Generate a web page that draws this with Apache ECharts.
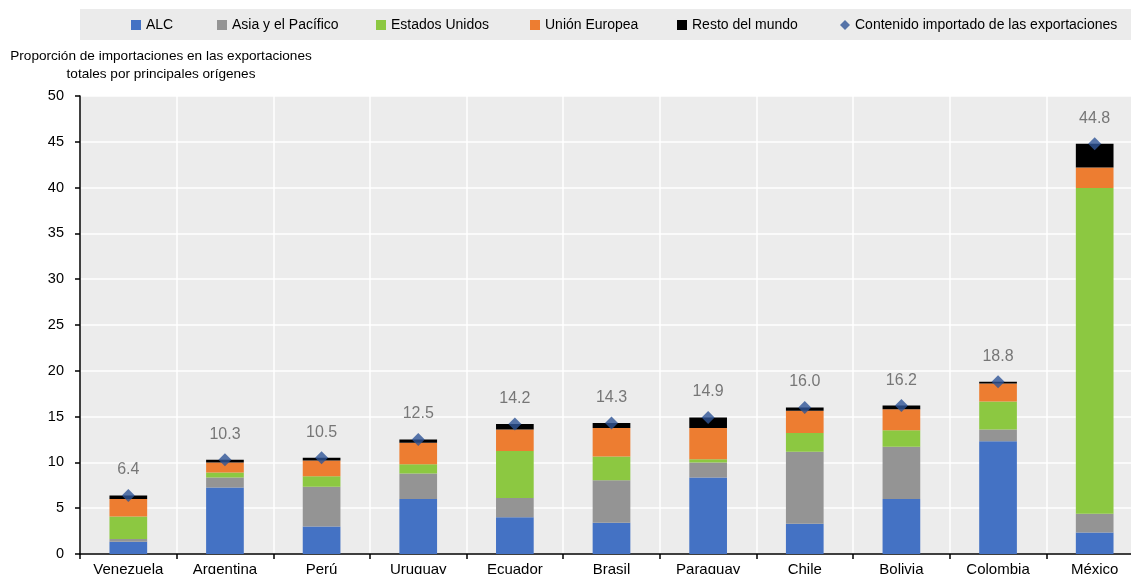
<!DOCTYPE html>
<html>
<head>
<meta charset="utf-8">
<script src="https://cdn.jsdelivr.net/npm/echarts@6/dist/echarts.min.js"></script>
<style>
  html, body { margin: 0; padding: 0; background: #fff; }
  #chart { width: 1131px; height: 574px; }
</style>
</head>
<body>
<div id="chart"></div>
<script>
// Countries, ordered by total import content of exports
const categories = ['Venezuela', 'Argentina', 'Perú', 'Uruguay', 'Ecuador', 'Brasil', 'Paraguay', 'Chile', 'Bolivia', 'Colombia', 'México'];

// Share of imports in total exports, by main origin
const alc        = [1.35, 7.25, 3.00, 6.00, 4.00, 3.40, 8.35, 3.30, 6.00, 12.30, 2.35];
const asiaPac    = [0.30, 1.10, 4.35, 2.80, 2.10, 4.65, 1.65, 7.85, 5.70, 1.30, 2.05];
const eeuu       = [2.45, 0.55, 1.15, 1.00, 5.15, 2.60, 0.35, 2.05, 1.80, 3.05, 35.55];
const ue         = [1.90, 1.10, 1.70, 2.35, 2.35, 3.10, 3.40, 2.45, 2.30, 1.95, 2.25];
const resto      = [0.40, 0.30, 0.30, 0.35, 0.60, 0.55, 1.15, 0.35, 0.40, 0.20, 2.60];

// Total import content of exports
const contenido  = [6.4, 10.3, 10.5, 12.5, 14.2, 14.3, 14.9, 16.0, 16.2, 18.8, 44.8];

const yTicks = { min: 0, max: 50, interval: 5 };

// Legend entries: name, icon, horizontal offset of each entry
const legendItems = [
  { name: 'ALC', icon: 'rect', left: 131 },
  { name: 'Asia y el Pacífico', icon: 'rect', left: 217 },
  { name: 'Estados Unidos', icon: 'rect', left: 376 },
  { name: 'Unión Europea', icon: 'rect', left: 530 },
  { name: 'Resto del mundo', icon: 'rect', left: 677 },
  { name: 'Contenido importado de las exportaciones', icon: 'diamond', left: 840 }
];

const FONT = "'Liberation Sans', Arial, sans-serif";

const chart = echarts.init(document.getElementById('chart'), null, { renderer: 'canvas' });

function barSeries(name, data, color) {
  return {
    name: name,
    type: 'bar',
    stack: 'total',
    barWidth: '39%',
    data: data,
    itemStyle: { color: color },
    emphasis: { disabled: true }
  };
}

chart.setOption({
  animation: false,
  textStyle: { fontFamily: FONT },
  graphic: [
    {
      type: 'rect',
      z: -1,
      shape: { x: 80, y: 9, width: 1051, height: 31 },
      style: { fill: '#EBEBEB' }
    },
    {
      type: 'text',
      x: 161,
      y: 47,
      style: {
        text: 'Proporción de importaciones en las exportaciones\ntotales por principales orígenes',
        textAlign: 'center',
        fill: '#000',
        font: '13.6px ' + FONT,
        lineHeight: 18
      }
    }
  ],
  legend: legendItems.map(item => ({
    left: item.left,
    top: 18,
    padding: 0,
    itemWidth: 10,
    itemHeight: 10,
    itemGap: 0,
    textStyle: { fontSize: 14, color: '#000', fontFamily: FONT },
    data: [{ name: item.name, icon: item.icon }]
  })),
  grid: {
    left: 80,
    right: -12,
    top: 96,
    bottom: 20,
    outerBoundsMode: 'none',
    containLabel: false,
    show: true,
    backgroundColor: '#ECECEC',
    borderWidth: 0
  },
  xAxis: {
    type: 'category',
    data: categories,
    boundaryGap: true,
    axisLine: { lineStyle: { color: '#000', width: 1.5 } },
    axisTick: { show: true, length: 5, lineStyle: { color: '#000', width: 1.5 } },
    axisLabel: { color: '#000', fontSize: 15, margin: 8, fontFamily: FONT },
    splitLine: { show: true, lineStyle: { color: '#fff', width: 1.5 } }
  },
  yAxis: {
    type: 'value',
    min: yTicks.min,
    max: yTicks.max,
    interval: yTicks.interval,
    axisLine: { show: true, lineStyle: { color: '#000', width: 1.5 } },
    axisTick: { show: true, length: 5, lineStyle: { color: '#000', width: 1.5 } },
    axisLabel: { color: '#000', fontSize: 14.5, margin: 16, fontFamily: FONT },
    splitLine: { show: true, lineStyle: { color: '#fff', width: 1.5 } }
  },
  series: [
    barSeries('ALC', alc, '#4472C4'),
    barSeries('Asia y el Pacífico', asiaPac, '#949494'),
    barSeries('Estados Unidos', eeuu, '#8CC841'),
    barSeries('Unión Europea', ue, '#ED7D31'),
    barSeries('Resto del mundo', resto, '#000000'),
    {
      name: 'Contenido importado de las exportaciones',
      type: 'scatter',
      symbol: 'diamond',
      symbolSize: 13,
      z: 10,
      data: contenido,
      itemStyle: { color: '#2F5597' },
      label: {
        show: true,
        position: 'top',
        distance: 11,
        color: '#595959',
        fontSize: 16,
        fontFamily: FONT,
        formatter: p => p.value.toFixed(1)
      },
      emphasis: { disabled: true }
    }
  ]
});
</script>
</body>
</html>
